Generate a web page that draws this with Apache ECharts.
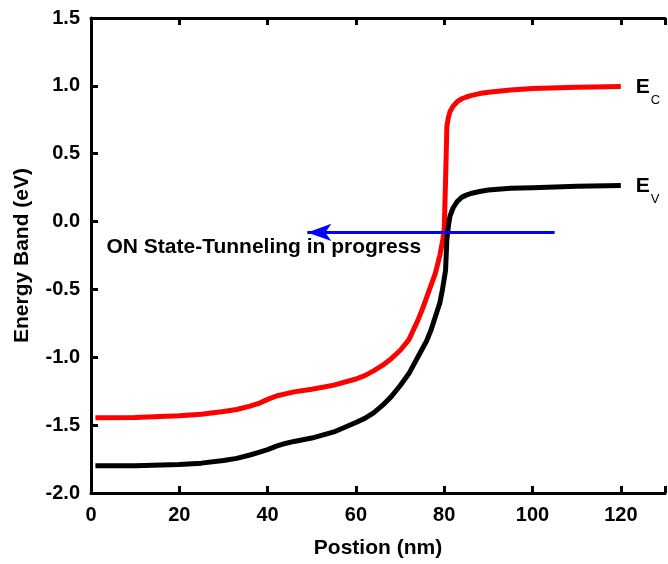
<!DOCTYPE html>
<html>
<head>
<meta charset="utf-8">
<script src="https://cdn.jsdelivr.net/npm/echarts@6/dist/echarts.min.js"></script>
<style>
  html, body { margin: 0; padding: 0; background: #fff; }
  #chart { width: 668px; height: 564px; }
</style>
</head>
<body>
<div id="chart"></div>
<script>
// --- data ---
const ecX = [1, 10, 20, 25, 30, 33, 36, 38, 40, 42, 44, 46, 50, 55, 60, 62, 64, 66, 68, 70, 72, 73, 74, 75, 76, 77, 78, 79, 79.7, 80, 80.3, 80.6, 80.9, 81.3, 82, 83, 84, 85, 86, 88, 90, 95, 100, 110, 120];
const ecY = [-1.445, -1.443, -1.43, -1.42, -1.40, -1.385, -1.36, -1.34, -1.31, -1.285, -1.27, -1.255, -1.235, -1.205, -1.16, -1.135, -1.10, -1.06, -1.01, -0.95, -0.87, -0.80, -0.73, -0.65, -0.56, -0.47, -0.38, -0.25, -0.13, -0.05, 0.30, 0.70, 0.76, 0.81, 0.85, 0.885, 0.905, 0.918, 0.928, 0.943, 0.953, 0.97, 0.98, 0.99, 0.995];

const evX = [1, 10, 20, 25, 30, 33, 36, 38, 40, 42, 44, 46, 50, 55, 60, 62, 64, 66, 68, 70, 72, 74, 76, 77, 78, 79, 79.6, 80, 80.3, 80.6, 81, 81.3, 82, 83, 84, 85, 86, 88, 90, 95, 100, 110, 120];
const evY = [-1.80, -1.80, -1.79, -1.78, -1.76, -1.745, -1.72, -1.70, -1.68, -1.655, -1.635, -1.62, -1.595, -1.55, -1.48, -1.45, -1.41, -1.355, -1.29, -1.21, -1.12, -1.00, -0.88, -0.80, -0.70, -0.60, -0.50, -0.42, -0.36, -0.13, -0.02, 0.04, 0.10, 0.15, 0.18, 0.195, 0.207, 0.222, 0.232, 0.245, 0.25, 0.26, 0.265];

const arrowFrom = [105, -0.08];
const arrowTo = [49, -0.08];
const noteText = 'ON State-Tunneling in progress';
const notePos = [3.5, -0.19];

const xTicks = [0, 20, 40, 60, 80, 100, 120];

const FONT = 'Liberation Sans, Arial, sans-serif';

const pairs = (xs, ys) => xs.map((x, i) => [x, ys[i]]);

const chart = echarts.init(document.getElementById('chart'));

const axisLine = { show: true, onZero: false, lineStyle: { color: '#000', width: 3 } };
const axisTick = { show: true, inside: true, length: 7, lineStyle: { color: '#000', width: 3 } };

const subRich = {
  e: { fontFamily: FONT, fontWeight: 'bold', fontSize: 21, color: '#000', lineHeight: 22, verticalAlign: 'top' },
  s: { fontFamily: FONT, fontSize: 13, color: '#000', lineHeight: 30, verticalAlign: 'bottom', padding: [0, 0, 0, 1] }
};

chart.setOption({
  animation: false,
  backgroundColor: '#fff',
  grid: { left: 91, top: 18, bottom: 70, right: -10 },
  xAxis: [{
    type: 'value',
    min: 0, max: 130, interval: 20,
    position: 'bottom',
    name: 'Postion (nm)',
    nameLocation: 'middle',
    nameGap: 45,
    nameTextStyle: { fontFamily: FONT, fontWeight: 'bold', fontSize: 21, color: '#000' },
    axisLine, axisTick,
    splitLine: { show: false },
    axisLabel: {
      margin: 12, fontFamily: FONT, fontWeight: 'bold', fontSize: 20, color: '#000',
      formatter: v => (xTicks.includes(v) ? String(v) : '')
    }
  }, {
    type: 'value',
    min: 0, max: 130, interval: 20,
    position: 'top',
    axisLine, axisTick,
    splitLine: { show: false },
    axisLabel: { show: false }
  }],
  yAxis: {
    type: 'value',
    min: -2, max: 1.5, interval: 0.5,
    name: 'Energy Band (eV)',
    nameLocation: 'middle',
    nameGap: 58,
    nameTextStyle: { fontFamily: FONT, fontWeight: 'bold', fontSize: 21, color: '#000' },
    axisLine, axisTick,
    splitLine: { show: false },
    axisLabel: {
      margin: 11, fontFamily: FONT, fontWeight: 'bold', fontSize: 20, color: '#000',
      formatter: v => v.toFixed(1)
    }
  },
  series: [
    {
      name: 'EC',
      type: 'line',
      data: pairs(ecX, ecY),
      showSymbol: false,
      lineStyle: { color: '#ff0000', width: 5 },
      endLabel: {
        show: true, distance: 7, offset: [8, 5],
        formatter: () => '{e|E}{s|C}',
        rich: subRich
      },
      markLine: {
        silent: true,
        symbol: ['none', 'arrow'],
        symbolSize: [13, 24],
        label: { show: false },
        lineStyle: { color: '#0000ff', width: 3, type: 'solid' },
        data: [[{ coord: arrowFrom }, { coord: arrowTo }]]
      },
      markPoint: {
        silent: true,
        symbol: 'circle', symbolSize: 0,
        label: {
          show: true, position: 'right', distance: 0,
          formatter: noteText,
          fontFamily: FONT, fontWeight: 'bold', fontSize: 21, color: '#000'
        },
        data: [{ coord: notePos }]
      }
    },
    {
      name: 'EV',
      type: 'line',
      data: pairs(evX, evY),
      showSymbol: false,
      lineStyle: { color: '#000000', width: 5 },
      endLabel: {
        show: true, distance: 7, offset: [8, 5],
        formatter: () => '{e|E}{s|V}',
        rich: subRich
      }
    }
  ]
});
</script>
</body>
</html>
